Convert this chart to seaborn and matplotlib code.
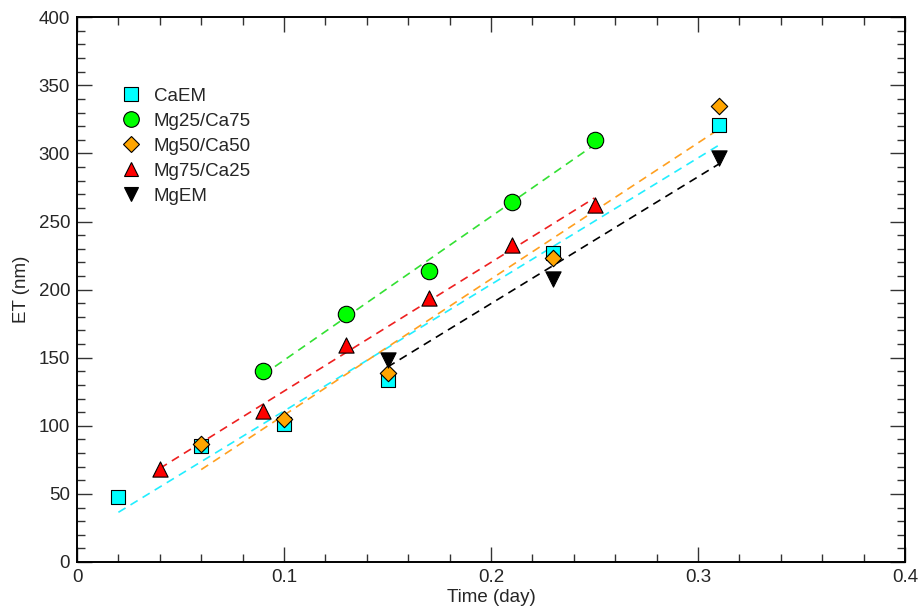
import numpy as np
import pandas as pd
import seaborn as sns
import matplotlib.pyplot as plt
from matplotlib.ticker import MultipleLocator

# values
caem_x = [0.02, 0.06, 0.10, 0.15, 0.23, 0.31]
caem_y = [48, 85, 101, 134, 227, 321]
mg25_x = [0.09, 0.13, 0.17, 0.21, 0.25]
mg25_y = [140, 182, 214, 264, 310]
mg50_x = [0.06, 0.10, 0.15, 0.23, 0.31]
mg50_y = [87, 105, 139, 223, 335]
mg75_x = [0.04, 0.09, 0.13, 0.17, 0.21, 0.25]
mg75_y = [68, 111, 159, 194, 233, 262]
mgem_x = [0.15, 0.23, 0.31]
mgem_y = [148, 208, 297]

labels = ['CaEM', 'Mg25/Ca75', 'Mg50/Ca50', 'Mg75/Ca25', 'MgEM']
xs = [caem_x, mg25_x, mg50_x, mg75_x, mgem_x]
ys = [caem_y, mg25_y, mg50_y, mg75_y, mgem_y]

face_colors = ['#00ffff', '#00ff00', '#ffa500', '#ff0000', '#000000']
line_colors = ['#22eeff', '#33e033', '#ffa020', '#ee2020', '#000000']
markers = ['s', 'o', 'D', '^', 'v']
sizes = [100, 140, 70, 120, 120]

df = pd.concat([pd.DataFrame({'x': x, 'y': y, 'sample': lab})
                for x, y, lab in zip(xs, ys, labels)], ignore_index=True)

sns.set_style('ticks')
plt.rcParams['font.family'] = ['Liberation Sans', 'DejaVu Sans']

fig = plt.figure(figsize=(9.19, 6.10), dpi=100)
ax = fig.add_axes([0.0838, 0.0787, 0.901, 0.893])

# dashed least-squares lines
for lab, c in zip(labels, line_colors):
    sub = df[df['sample'] == lab]
    sns.regplot(data=sub, x='x', y='y', scatter=False, ci=None, truncate=True,
                ax=ax, line_kws={'color': c, 'lw': 1.2, 'dashes': (5, 3.5)})

handles = []
for lab, fc, m, s in zip(labels, face_colors, markers, sizes):
    sub = df[df['sample'] == lab]
    sns.scatterplot(data=sub, x='x', y='y', marker=m, s=s, color=fc,
                    edgecolor='black', linewidth=0.8, ax=ax, zorder=3)
    handles.append(plt.Line2D([], [], ls='none', marker=m, markersize=np.sqrt(s) * 0.95,
                              markerfacecolor=fc, markeredgecolor='black',
                              markeredgewidth=0.8, label=lab))

ax.set_xlim(0, 0.4)
ax.set_ylim(0, 400)
ax.xaxis.set_major_locator(MultipleLocator(0.1))
ax.xaxis.set_minor_locator(MultipleLocator(0.02))
ax.yaxis.set_major_locator(MultipleLocator(50))
ax.yaxis.set_minor_locator(MultipleLocator(10))
ax.xaxis.set_major_formatter(plt.FuncFormatter(lambda v, p: '0' if v == 0 else f'{v:g}'))
ax.tick_params(which='both', direction='in', top=True, right=True, labelsize=13.5,
               color='#333333', width=1)
ax.tick_params(which='major', length=11, pad=5)
ax.tick_params(which='minor', length=6)
for sp in ax.spines.values():
    sp.set_linewidth(1.4)
    sp.set_color('black')

ax.set_xlabel('Time (day)', fontsize=13.5, labelpad=2)
ax.set_ylabel('ET (nm)', fontsize=13.5, labelpad=6)

ax.legend(handles=handles, loc='upper left', bbox_to_anchor=(0.045, 0.885),
          frameon=False, fontsize=13.5, handletextpad=0.7, labelspacing=0.42,
          handlelength=1.0, borderaxespad=0)

fig.savefig('out.png', dpi=100)
